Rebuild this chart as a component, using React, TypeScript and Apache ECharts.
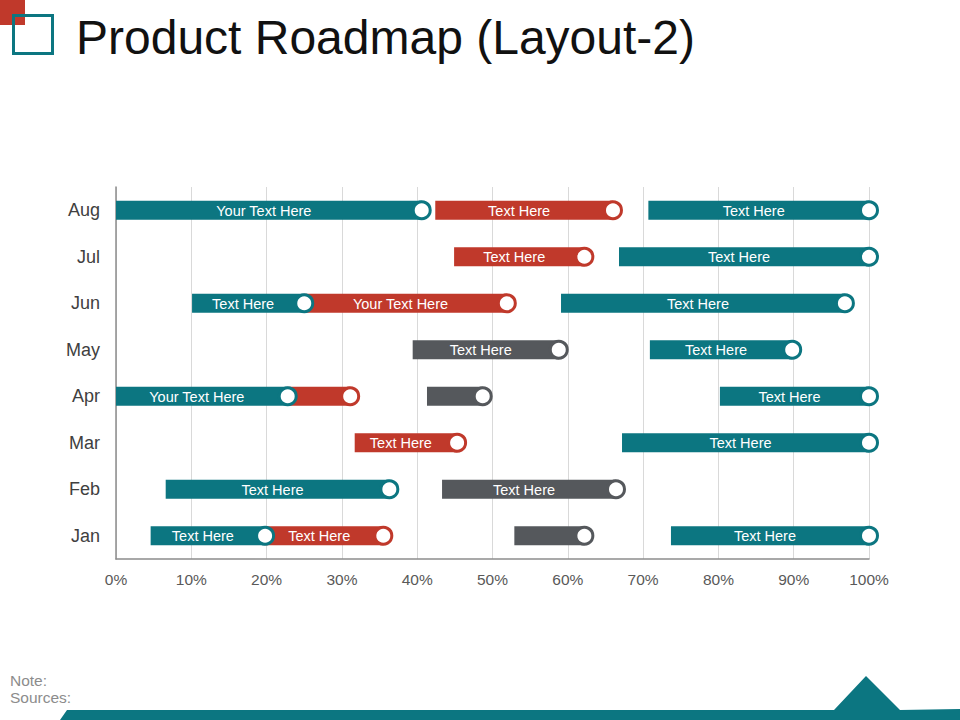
import React, { useEffect, useRef } from "react";
import * as echarts from "echarts";

const categories = ["Jan", "Feb", "Mar", "Apr", "May", "Jun", "Jul", "Aug"];
const xTicks = [0, 10, 20, 30, 40, 50, 60, 70, 80, 90, 100];

const segmentMonths = [
  "Aug", "Aug", "Aug",
  "Jul", "Jul",
  "Jun", "Jun", "Jun",
  "May", "May",
  "Apr", "Apr", "Apr", "Apr",
  "Mar", "Mar",
  "Feb", "Feb",
  "Jan", "Jan", "Jan", "Jan",
];
const segmentStarts = [
  0, 42.4, 70.7,
  44.9, 66.8,
  10.1, 25, 59.1,
  39.4, 70.9,
  0, 22.8, 41.3, 80.2,
  31.7, 67.2,
  6.6, 43.3,
  4.6, 19.8, 52.9, 73.7,
];
const segmentEnds = [
  40.6, 66, 100,
  62.2, 100,
  25, 51.9, 96.8,
  58.8, 89.8,
  22.8, 31.1, 48.7, 100,
  45.3, 100,
  36.3, 66.4,
  19.8, 35.5, 62.2, 100,
];
const segmentKinds = [
  "teal", "red", "teal",
  "red", "teal",
  "teal", "red", "teal",
  "gray", "teal",
  "teal", "red", "gray", "teal",
  "red", "teal",
  "teal", "gray",
  "teal", "red", "gray", "teal",
];
const segmentLabels = [
  "Your Text Here", "Text Here", "Text Here",
  "Text Here", "Text Here",
  "Text Here", "Your Text Here", "Text Here",
  "Text Here", "Text Here",
  "Your Text Here", "", "", "Text Here",
  "Text Here", "Text Here",
  "Text Here", "Text Here",
  "Text Here", "Text Here", "", "Text Here",
];

const COLORS: Record<string, string> = {
  teal: "#0c7681",
  red: "#c0392b",
  gray: "#55585c",
};
const FONT = "'Liberation Sans', Arial, sans-serif";

export default function App() {
  const ref = useRef<HTMLDivElement>(null);

  useEffect(() => {
    if (!ref.current) return;
    const chart = echarts.init(ref.current, undefined, { renderer: "svg" });

    const data = segmentMonths.map((m, i) => [
      categories.indexOf(m),
      segmentStarts[i],
      segmentEnds[i],
    ]);

    const barRender = (params: any, api: any) => {
      const i = params.dataIndex;
      const cat = api.value(0);
      const p0 = api.coord([api.value(1), cat]);
      const p1 = api.coord([api.value(2), cat]);
      const h = 19;
      const color = COLORS[segmentKinds[i]];
      const children: any[] = [
        {
          type: "rect",
          shape: { x: p0[0], y: p0[1] - h / 2, width: p1[0] - p0[0], height: h },
          style: { fill: color },
        },
      ];
      if (segmentLabels[i]) {
        children.push({
          type: "text",
          style: {
            x: (p0[0] + p1[0] - 10) / 2,
            y: p0[1] + 0.5,
            text: segmentLabels[i],
            fill: "#ffffff",
            fontSize: 14.5,
            fontFamily: FONT,
            align: "center",
            verticalAlign: "middle",
          },
        });
      }
      return { type: "group", children };
    };

    const circleRender = (params: any, api: any) => {
      const i = params.dataIndex;
      const cat = api.value(0);
      const p1 = api.coord([api.value(2), cat]);
      const color = COLORS[segmentKinds[i]];
      return {
        type: "circle",
        shape: { cx: p1[0], cy: p1[1], r: 8.5 },
        style: { fill: "#ffffff", stroke: color, lineWidth: 3 },
      };
    };

    chart.setOption({
      animation: false,
      grid: { left: 116, right: 91, top: 187, bottom: 161, containLabel: false },
      xAxis: {
        type: "value",
        min: 0,
        max: 100,
        interval: 10,
        axisLine: { show: true, lineStyle: { color: "#8c8c8c", width: 1.5 } },
        axisTick: { show: false },
        splitLine: { show: true, lineStyle: { color: "#d9d9d9", width: 1 } },
        axisLabel: {
          formatter: (v: number) => (xTicks.includes(v) ? v + "%" : ""),
          color: "#595959",
          fontSize: 15.5,
          fontFamily: FONT,
          margin: 12,
        },
      },
      yAxis: {
        type: "category",
        data: categories,
        axisLine: { show: true, lineStyle: { color: "#8c8c8c", width: 1.5 } },
        axisTick: { show: false },
        splitLine: { show: false },
        axisLabel: {
          color: "#404040",
          fontSize: 18,
          fontFamily: FONT,
          margin: 16,
        },
      },
      series: [
        {
          type: "custom",
          renderItem: barRender,
          data,
          encode: { x: [1, 2], y: 0 },
          clip: false,
          z: 2,
        },
        {
          type: "custom",
          renderItem: circleRender,
          data,
          encode: { x: [1, 2], y: 0 },
          clip: false,
          z: 3,
        },
      ],
      graphic: [
        {
          type: "rect",
          shape: { x: 0, y: 0, width: 25, height: 25 },
          style: { fill: "#c0392b" },
          z: 10,
        },
        {
          type: "rect",
          shape: { x: 13.5, y: 15.5, width: 39, height: 38 },
          style: { fill: "none", stroke: "#0c7681", lineWidth: 3 },
          z: 11,
        },
        {
          type: "text",
          x: 76,
          y: 37,
          style: {
            text: "Product Roadmap (Layout-2)",
            fill: "#111111",
            fontSize: 48,
            fontFamily: FONT,
            verticalAlign: "middle",
            align: "left",
          },
          z: 10,
        },
        {
          type: "text",
          x: 10,
          y: 680,
          style: {
            text: "Note:",
            fill: "#8c8c8c",
            fontSize: 15.5,
            fontFamily: FONT,
            verticalAlign: "middle",
          },
        },
        {
          type: "text",
          x: 10,
          y: 697,
          style: {
            text: "Sources:",
            fill: "#8c8c8c",
            fontSize: 15.5,
            fontFamily: FONT,
            verticalAlign: "middle",
          },
        },
        {
          type: "polygon",
          shape: {
            points: [
              [60, 720],
              [67, 710],
              [834, 710],
              [866, 676],
              [900, 710],
              [960, 709],
              [960, 720],
            ],
          },
          style: { fill: "#0c7681" },
        },
      ],
    });

    return () => chart.dispose();
  }, []);

  return (
    <div
      ref={ref}
      style={{ position: "fixed", left: 0, top: 0, width: 960, height: 720, background: "#ffffff" }}
    />
  );
}
